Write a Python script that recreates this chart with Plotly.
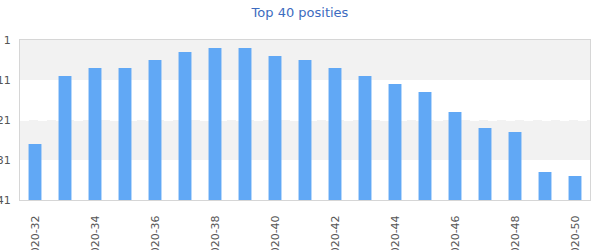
import plotly.graph_objects as go

weeks = ["2020-%d" % w for w in range(32, 51)]
positions = [27, 10, 8, 8, 6, 4, 3, 3, 5, 6, 8, 10, 12, 14, 19, 23, 24, 34, 35]
tick_vals = [1, 11, 21, 31, 41]
tick_labels = ["1", "11", "21", "31", "41"]
shown_weeks = weeks[::2]
bottom_pos = 41

fig = go.Figure()
fig.add_trace(go.Bar(
    x=weeks,
    y=[p - bottom_pos for p in positions],
    base=bottom_pos,
    marker=dict(color="#61a8f5", line=dict(width=0)),
    width=0.43,
    showlegend=False,
))

for lo, hi in [(1, 11), (21, 31)]:
    fig.add_shape(type="rect", xref="paper", yref="y", x0=0, x1=1, y0=lo, y1=hi,
                  fillcolor="#f2f2f2", line=dict(width=0), layer="below")

fig.update_layout(
    width=600, height=250,
    margin=dict(l=20, r=10, t=40, b=50, pad=0),
    paper_bgcolor="white", plot_bgcolor="white",
    title=dict(text="Top 40 posities", x=0.5, xanchor="center", y=0.952, yanchor="middle",
               font=dict(family="DejaVu Sans", size=13, color="#3d6cc0")),
    font=dict(family="DejaVu Sans", size=11, color="#555555"),
    bargap=0.57,
)
fig.update_xaxes(
    type="category", tickmode="array", tickvals=shown_weeks, ticktext=shown_weeks,
    tickangle=-90, showgrid=False, showline=True, linecolor="#d6d6d6", linewidth=1,
    mirror=True, ticks="", ticklabelstandoff=10, automargin=False,
    tickfont=dict(size=11, color="#555555"),
)
fig.update_yaxes(
    range=[41, 1], tickmode="array", tickvals=tick_vals, ticktext=tick_labels,
    showgrid=True, gridcolor="white", griddash="dash", gridwidth=1,
    showline=True, linecolor="#d6d6d6", linewidth=1, mirror=True, zeroline=False,
    ticks="", ticklabelstandoff=6, automargin=False,
    tickfont=dict(size=11, color="#555555"),
)

fig.write_html("out.html")
